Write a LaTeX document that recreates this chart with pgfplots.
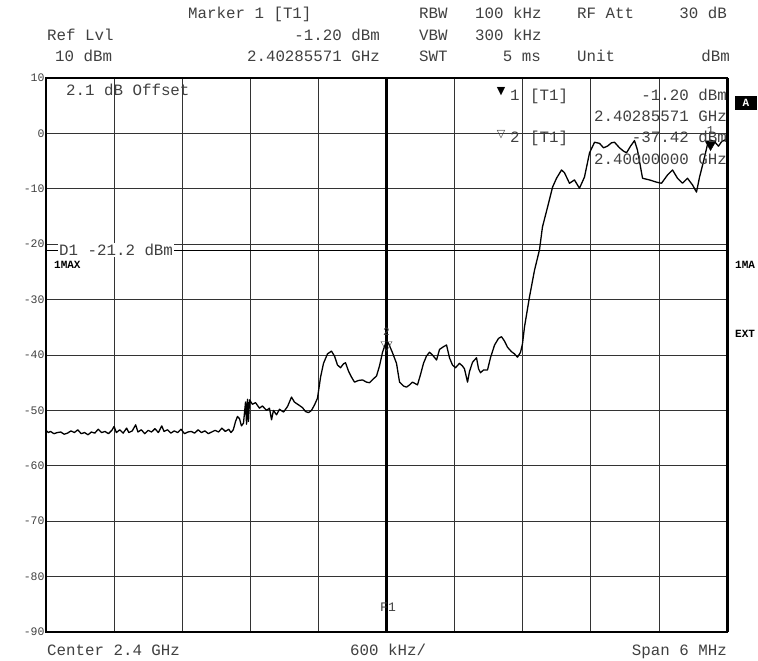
\documentclass[border=0pt]{standalone}
\usepackage{pgfplots}
\pgfplotsset{compat=1.18}
\usepackage{fontspec}
\setmainfont{Liberation Mono}
\newfontfamily\mono{Liberation Mono}
\newfontfamily\sym{DejaVu Sans}
\newcommand\hdr{\mono\fontsize{15.8bp}{18bp}\selectfont}
\newcommand\sml{\mono\fontsize{11.5bp}{12bp}\selectfont}
\newcommand\tny{\mono\bfseries\fontsize{11bp}{12bp}\selectfont}
\definecolor{txt}{gray}{0.25}
\definecolor{gridc}{gray}{0.2}
\begin{document}
\begin{tikzpicture}
\useasboundingbox (-46bp,-29bp) rectangle (712bp,632bp);
\begin{axis}[
  at={(0,0)}, anchor=south west,
  scale only axis, width=681bp, height=554bp,
  xmin=-3, xmax=3, ymin=-90, ymax=10,
  xtick={-2.4,-1.8,-1.2,-0.6,0.6,1.2,1.8,2.4},
  xticklabels={},
  ytick={-90,-80,-70,-60,-50,-40,-30,-20,-10,0,10},
  yticklabels={-90,-80,-70,-60,-50,-40,-30,-20,-10,0,10},
  yticklabel style={font=\sml, text=txt, xshift=2bp},
  major tick length=0pt,
  grid=major,
  major grid style={gridc, line width=0.7bp},
  axis line style={black, line width=1.8bp},
  clip=true,
]
% trace
\addplot[black, line width=1.3bp, line join=round] coordinates {
(-3.00,-53.6)(-2.98,-54.0)(-2.96,-53.8)(-2.93,-54.2)(-2.90,-54.0)(-2.87,-53.9)
(-2.84,-54.3)(-2.81,-54.1)(-2.78,-53.7)(-2.75,-54.0)(-2.72,-53.5)(-2.69,-54.2)
(-2.66,-54.0)(-2.63,-54.4)(-2.60,-53.9)(-2.57,-54.1)(-2.54,-53.4)(-2.51,-54.0)
(-2.48,-53.8)(-2.45,-54.2)(-2.42,-53.6)(-2.40,-52.9)(-2.38,-54.0)(-2.35,-53.5)
(-2.32,-54.1)(-2.29,-53.2)(-2.27,-54.0)(-2.24,-53.7)(-2.21,-52.6)(-2.19,-53.9)
(-2.16,-53.5)(-2.13,-54.2)(-2.10,-53.6)(-2.07,-53.9)(-2.04,-53.3)(-2.01,-54.0)
(-1.98,-52.8)(-1.96,-53.8)(-1.93,-53.5)(-1.90,-54.1)(-1.87,-53.7)(-1.84,-54.0)
(-1.81,-53.4)(-1.78,-54.2)(-1.75,-53.9)(-1.72,-53.8)(-1.69,-54.1)(-1.66,-53.5)
(-1.63,-54.0)(-1.60,-53.7)(-1.57,-54.2)(-1.54,-53.9)(-1.51,-53.6)(-1.48,-53.9)
(-1.45,-53.2)(-1.42,-53.8)(-1.39,-53.4)(-1.37,-54.0)(-1.35,-53.5)
(-1.330,-52.0)(-1.313,-51.1)(-1.295,-51.5)(-1.278,-52.8)(-1.260,-52.3)
(-1.242,-48.5)(-1.233,-52.5)(-1.225,-48.0)(-1.216,-52.0)(-1.207,-48.1)
(-1.181,-48.9)(-1.154,-48.6)(-1.119,-49.6)(-1.093,-49.2)(-1.057,-50.0)
(-1.031,-49.6)(-1.013,-51.7)(-0.996,-50.0)(-0.969,-50.8)(-0.943,-49.8)
(-0.907,-50.3)(-0.872,-49.3)(-0.837,-47.6)(-0.811,-48.5)(-0.775,-49.0)
(-0.740,-49.5)(-0.714,-50.2)(-0.687,-50.4)(-0.661,-50.0)(-0.634,-49.0)
(-0.608,-47.8)(-0.581,-44.0)(-0.555,-41.5)(-0.520,-39.8)(-0.485,-39.3)
(-0.458,-40.2)(-0.432,-41.8)(-0.405,-42.3)(-0.379,-41.6)(-0.361,-41.4)
(-0.335,-42.9)(-0.308,-44.0)(-0.282,-44.9)(-0.247,-44.6)(-0.211,-44.5)
(-0.176,-44.9)(-0.150,-45.0)(-0.115,-44.3)(-0.088,-43.8)(-0.062,-42.0)
(-0.035,-39.5)(-0.018,-38.5)(0.000,-37.42)(0.018,-37.9)(0.053,-39.6)
(0.088,-41.5)(0.115,-44.9)(0.150,-45.6)(0.176,-45.8)(0.203,-45.4)
(0.229,-44.9)(0.256,-45.2)(0.273,-45.4)(0.300,-43.5)(0.326,-41.5)
(0.352,-40.2)(0.379,-39.5)(0.405,-40.0)(0.441,-40.9)(0.467,-39.0)
(0.502,-38.5)(0.529,-38.2)(0.555,-40.5)(0.581,-41.8)(0.608,-42.3)
(0.643,-41.5)(0.670,-42.0)(0.687,-42.5)(0.714,-44.9)(0.731,-43.0)
(0.758,-41.3)(0.793,-40.5)(0.811,-42.5)(0.828,-43.2)(0.855,-42.7)
(0.890,-42.7)(0.916,-40.5)(0.952,-38.2)(0.987,-37.0)(1.013,-36.7)
(1.040,-37.5)(1.066,-38.6)(1.101,-39.4)(1.128,-39.8)(1.154,-40.4)
(1.181,-39.5)(1.198,-38.0)(1.216,-34.9)(1.260,-29.5)(1.304,-24.7)
(1.348,-21.0)(1.374,-16.9)(1.419,-13.3)(1.463,-9.7)(1.498,-8.1)
(1.542,-6.6)(1.568,-7.1)(1.612,-9.0)(1.656,-8.4)(1.700,-9.9)
(1.744,-7.9)(1.789,-3.5)(1.833,-1.6)(1.877,-1.8)(1.912,-2.6)
(1.947,-2.3)(1.982,-1.7)(2.009,-1.6)(2.053,-2.6)(2.088,-3.2)
(2.115,-3.5)(2.150,-2.3)(2.185,-1.3)(2.211,-3.0)(2.256,-8.1)
(2.317,-8.4)(2.379,-8.8)(2.423,-9.0)(2.476,-7.5)(2.520,-6.6)
(2.564,-8.1)(2.608,-9.0)(2.652,-8.1)(2.696,-9.3)(2.731,-10.6)
(2.758,-7.9)(2.802,-4.3)(2.828,-2.0)(2.855,-1.2)(2.890,-1.5)
(2.925,-2.3)(2.952,-1.5)(3.000,-1.0)
};
% F1 centre line
\addplot[black, line width=2.6bp] coordinates {(0,-90)(0,10)};
% D1 line
\addplot[black, line width=0.8bp] coordinates {(-3,-21.2)(3,-21.2)};
% marker 1
\addplot[only marks, mark=triangle*, mark size=6.5bp,
  mark options={rotate=180, yshift=4bp, fill=black, draw=black},
  nodes near coords, point meta=explicit symbolic,
  every node near coord/.style={font=\mono\fontsize{12bp}{13bp}\selectfont, text=txt, anchor=south, yshift=6bp}]
  coordinates {(2.855,-1.2) [1]};
% marker 2
\addplot[only marks, mark=triangle, mark size=6.5bp,
  mark options={rotate=180, yshift=4bp, fill=white, draw=txt},
  nodes near coords, point meta=explicit symbolic,
  every node near coord/.style={font=\mono\fontsize{11bp}{12bp}\selectfont, text=txt, anchor=south, yshift=6bp}]
  coordinates {(0,-37.42) [2]};
\end{axis}
% thicker right border
\draw[black, line width=3bp] (681bp,0) -- (681bp,554bp);
% header
\begin{scope}[every node/.style={font=\hdr, text=txt, inner sep=0pt}]
\node[anchor=base west] at (142bp,613bp) {Marker 1 [T1]};
\node[anchor=base west] at (373bp,613bp) {RBW};
\node[anchor=base west] at (429bp,613bp) {100 kHz};
\node[anchor=base west] at (531bp,613bp) {RF Att};
\node[anchor=base east] at (681bp,613bp) {30 dB};
\node[anchor=base west] at (1bp,591bp) {Ref Lvl};
\node[anchor=base east] at (334bp,591bp) {-1.20 dBm};
\node[anchor=base west] at (373bp,591bp) {VBW};
\node[anchor=base west] at (429bp,591bp) {300 kHz};
\node[anchor=base west] at (9bp,570bp) {10 dBm};
\node[anchor=base east] at (334bp,570bp) {2.40285571 GHz};
\node[anchor=base west] at (373bp,570bp) {SWT};
\node[anchor=base east] at (495bp,570bp) {5 ms};
\node[anchor=base west] at (531bp,570bp) {Unit};
\node[anchor=base east] at (684bp,570bp) {dBm};
% footer
\node[anchor=base west] at (1bp,-23bp) {Center 2.4 GHz};
\node[anchor=base west] at (304bp,-23bp) {600 kHz/};
\node[anchor=base east] at (681bp,-23bp) {Span 6 MHz};
% inside plot
\node[anchor=base west] at (20bp,536bp) {2.1 dB Offset};
\node[anchor=base west] at (464bp,531bp) {1};
\node[anchor=base west] at (484bp,531bp) {[T1]};
\node[anchor=base east] at (681bp,531bp) {-1.20 dBm};
\node[anchor=base east] at (681bp,510bp) {2.40285571 GHz};
\node[anchor=base west] at (464bp,489bp) {2};
\node[anchor=base west] at (484bp,489bp) {[T1]};
\node[anchor=base east] at (681bp,489bp) {-37.42 dBm};
\node[anchor=base east] at (681bp,467bp) {2.40000000 GHz};
\node[anchor=west, fill=white, inner sep=1bp] at (12bp,382bp) {D1 -21.2 dBm};
\node[anchor=center, font=\mono\fontsize{13bp}{14bp}\selectfont] at (342bp,25bp) {F1};
\end{scope}
\node[font=\sym\fontsize{11bp}{12bp}\selectfont, inner sep=0pt] at (455bp,540bp) {▼};
\node[font=\sym\fontsize{11bp}{12bp}\selectfont, inner sep=0pt, text=txt] at (455bp,497bp) {▽};
\node[font=\tny, anchor=west, inner sep=0pt] at (8bp,367bp) {1MAX};
\node[font=\tny, anchor=west, inner sep=0pt] at (689bp,367bp) {1MA};
\node[font=\tny, anchor=west, inner sep=0pt] at (689bp,298bp) {EXT};
\node[fill=black, text=white, font=\tny, minimum width=22bp, minimum height=14bp, inner sep=0pt] at (700bp,529bp) {A};
\end{tikzpicture}
\end{document}
